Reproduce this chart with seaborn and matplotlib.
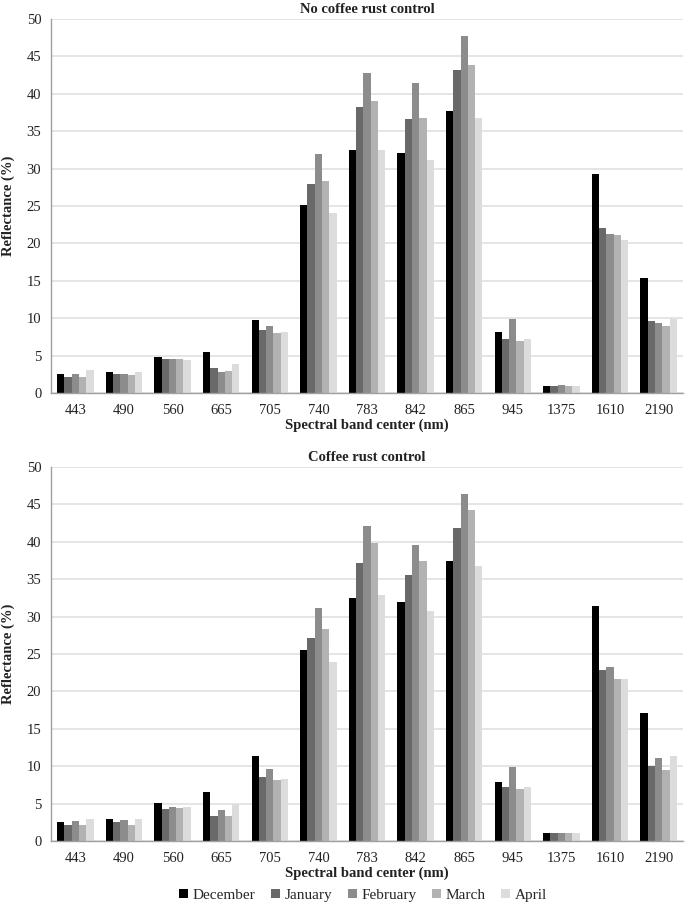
import numpy as np
import pandas as pd
import matplotlib
matplotlib.use("Agg")
import matplotlib.pyplot as plt
import seaborn as sns
from matplotlib.patches import Patch

bands = ["443", "490", "560", "665", "705", "740", "783", "842", "865", "945", "1375", "1610", "2190"]
months = ["December", "January", "February", "March", "April"]

# No coffee rust control
top_dec = [2.5, 2.8, 4.8, 5.5, 9.7, 25.2, 32.5, 32.1, 37.7, 8.1, 1.0, 29.3, 15.4]
top_jan = [2.2, 2.5, 4.5, 3.3, 8.4, 28.0, 38.2, 36.6, 43.2, 7.2, 1.0, 22.1, 9.6]
top_feb = [2.6, 2.5, 4.6, 2.8, 8.9, 31.9, 42.8, 41.5, 47.8, 9.9, 1.1, 21.3, 9.4]
top_mar = [2.1, 2.4, 4.5, 3.0, 8.0, 28.4, 39.1, 36.8, 43.9, 6.9, 1.0, 21.1, 9.0]
top_apr = [3.1, 2.8, 4.4, 3.9, 8.1, 24.1, 32.5, 31.2, 36.8, 7.2, 1.0, 20.5, 9.9]

# Coffee rust control
bot_dec = [2.5, 2.9, 5.1, 6.6, 11.4, 25.5, 32.5, 31.9, 37.5, 7.9, 1.0, 31.4, 17.1]
bot_jan = [2.2, 2.5, 4.3, 3.3, 8.5, 27.1, 37.2, 35.5, 41.9, 7.2, 1.0, 22.8, 10.0]
bot_feb = [2.7, 2.8, 4.6, 4.1, 9.6, 31.2, 42.1, 39.6, 46.4, 9.9, 1.0, 23.3, 11.1]
bot_mar = [2.2, 2.2, 4.4, 3.3, 8.2, 28.4, 39.8, 37.4, 44.3, 7.0, 1.0, 21.7, 9.5]
bot_apr = [3.0, 2.9, 4.5, 4.9, 8.3, 23.9, 32.9, 30.8, 36.8, 7.2, 1.0, 21.7, 11.3]

titles = ["No coffee rust control", "Coffee rust control"]
colors = ["#000000", "#696969", "#8c8c8c", "#b2b2b2", "#dcdcdc"]


def long_df(series):
    rows = []
    for m, vals in zip(months, series):
        for b, v in zip(bands, vals):
            rows.append({"band": b, "month": m, "value": v})
    return pd.DataFrame(rows)


sns.set_style("white")
plt.rcParams["font.family"] = ["Liberation Serif", "DejaVu Serif"]

fig = plt.figure(figsize=(6.85, 9.07), dpi=100)
ax1 = fig.add_axes([0.0745, 0.5667, 0.9225, 0.4123])
ax2 = fig.add_axes([0.0745, 0.0728, 0.9225, 0.4123])

datasets = [
    [top_dec, top_jan, top_feb, top_mar, top_apr],
    [bot_dec, bot_jan, bot_feb, bot_mar, bot_apr],
]

for ax, data, title in zip([ax1, ax2], datasets, titles):
    df = long_df(data)
    sns.barplot(data=df, x="band", y="value", hue="month", order=bands,
                hue_order=months, palette=colors, width=0.75, gap=0,
                saturation=1, ax=ax, legend=False, linewidth=0)
    ax.set_ylim(0, 50)
    ax.set_yticks(np.arange(0, 51, 5))
    ax.set_xlim(-0.5, len(bands) - 0.5)
    ax.yaxis.grid(True, color="#e0e0e0", linewidth=1.2)
    ax.set_axisbelow(True)
    for s in ["top", "right"]:
        ax.spines[s].set_visible(False)
    ax.spines["left"].set_color("#a0a0a0")
    ax.spines["bottom"].set_color("#a0a0a0")
    ax.spines["left"].set_linewidth(1.0)
    ax.spines["bottom"].set_linewidth(1.0)
    ax.tick_params(axis="y", length=0, labelsize=10.5, colors="#222222", pad=7)
    ax.tick_params(axis="x", length=0, labelsize=10.5, colors="#222222", pad=8)
    ax.set_ylabel("Reflectance (%)", fontsize=10.5, fontweight="bold", color="#222222", labelpad=8)
    ax.set_xlabel("Spectral band center (nm)", fontsize=10.5, fontweight="bold", color="#222222", labelpad=1)
    ax.set_title(title, fontsize=10.5, fontweight="bold", color="#222222", pad=4)

handles = [Patch(facecolor=c, edgecolor="none") for c in colors]
fig.legend(handles, months, loc="center", bbox_to_anchor=(0.53, 0.013), ncol=5,
           frameon=False, fontsize=11, handlelength=0.6, handleheight=0.6,
           handletextpad=0.3, columnspacing=1.0, borderpad=0)

fig.savefig("out.png", dpi=100)
